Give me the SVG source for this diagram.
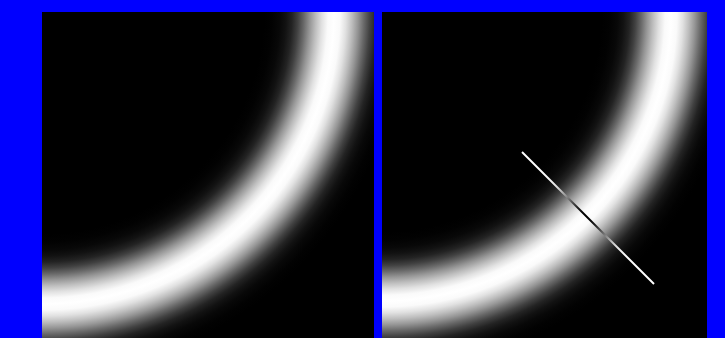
<svg xmlns="http://www.w3.org/2000/svg" width="725" height="338" viewBox="0 0 725 338">
  <defs>
    <radialGradient id="glowL" gradientUnits="userSpaceOnUse" cx="42" cy="12" r="400">
      <stop offset="0" stop-color="#000"/>
      <stop offset="0.555" stop-color="#000"/>
      <stop offset="0.575" stop-color="#020202"/>
      <stop offset="0.595" stop-color="#080808"/>
      <stop offset="0.61" stop-color="#121212"/>
      <stop offset="0.625" stop-color="#232323"/>
      <stop offset="0.64" stop-color="#414141"/>
      <stop offset="0.655" stop-color="#696969"/>
      <stop offset="0.67" stop-color="#969696"/>
      <stop offset="0.685" stop-color="#bebebe"/>
      <stop offset="0.70" stop-color="#e1e1e1"/>
      <stop offset="0.715" stop-color="#fafafa"/>
      <stop offset="0.73" stop-color="#fff"/>
      <stop offset="0.745" stop-color="#fafafa"/>
      <stop offset="0.76" stop-color="#e1e1e1"/>
      <stop offset="0.775" stop-color="#bebebe"/>
      <stop offset="0.79" stop-color="#969696"/>
      <stop offset="0.805" stop-color="#696969"/>
      <stop offset="0.82" stop-color="#414141"/>
      <stop offset="0.835" stop-color="#232323"/>
      <stop offset="0.85" stop-color="#121212"/>
      <stop offset="0.865" stop-color="#080808"/>
      <stop offset="0.885" stop-color="#020202"/>
      <stop offset="0.905" stop-color="#000"/>
      <stop offset="1" stop-color="#000"/>
    </radialGradient>
    <radialGradient id="glowR" href="#glowL" cx="382" cy="12" r="396"/>
    <style>
      .panel { stroke: none; }
      .probe { stroke: #fff; stroke-width: 2; mix-blend-mode: difference; }
    </style>
  </defs>
  <rect x="0" y="0" width="725" height="338" fill="#0000ff"/>
  <g id="left-panel">
    <rect class="panel" x="42" y="12" width="332" height="326" fill="url(#glowL)"/>
  </g>
  <g id="right-panel">
    <rect class="panel" x="382" y="12" width="325" height="326" fill="url(#glowR)"/>
    <line class="probe" x1="522" y1="152" x2="654" y2="284"/>
  </g>
</svg>
